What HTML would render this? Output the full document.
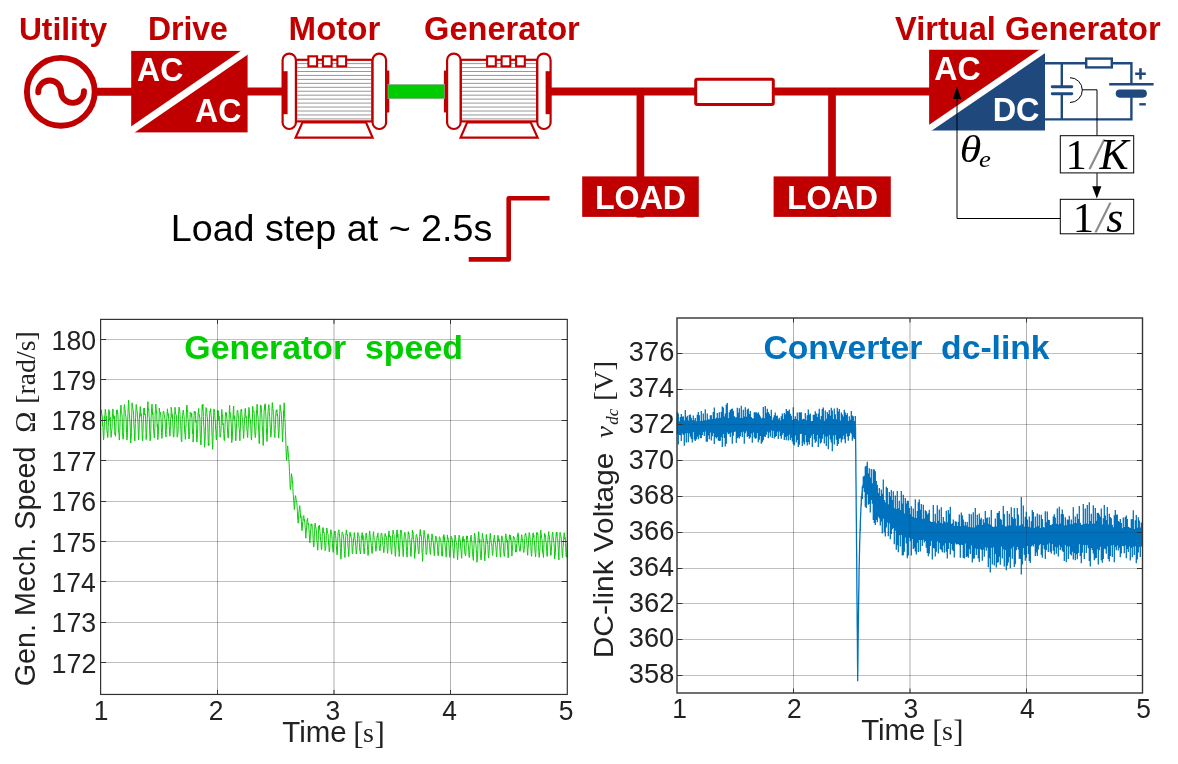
<!DOCTYPE html>
<html lang="en">
<head>
<meta charset="utf-8">
<title>Virtual generator load step</title>
<style>
html,body{margin:0;padding:0;background:#fff;}
body{width:1178px;height:764px;overflow:hidden;}
svg{display:block;}
text{font-family:"Liberation Sans",Arial,sans-serif;white-space:pre;}
.b{font-weight:bold;}
.ser{font-family:"Liberation Serif","Times New Roman",serif;}
.it{font-style:italic;}
</style>
</head>
<body>
<svg width="1178" height="764" viewBox="0 0 1178 764">
<rect width="1178" height="764" fill="#fff"/>

<g id="diagram">
<text class="b" transform="translate(18.89 40.20)" font-size="31.81" fill="#c00000">Utility</text>
<text class="b" transform="translate(147.89 40.00) scale(1 1.027)" font-size="31.99" fill="#c00000">Drive</text>
<text class="b" transform="translate(288.62 40.00) scale(1 0.994)" font-size="33.04" fill="#c00000">Motor</text>
<text class="b" transform="translate(424.06 40.00)" font-size="32.58" fill="#c00000">Generator</text>
<text class="b" transform="translate(895.10 40.00)" font-size="32.58" fill="#c00000">Virtual Generator</text>
<g stroke="#c00000" stroke-width="8" fill="none">
<path d="M97 91.8H132"/>
<path d="M247 91.6H283"/>
<path d="M551 91.5H930"/>
<path d="M640.4 91.5V217.6" stroke-width="7.7"/>
<path d="M832 91.5V217" stroke-width="7.7"/>
</g>
<circle cx="60.8" cy="91.8" r="33.9" fill="#fff" stroke="#c00000" stroke-width="5.9"/>
<path d="M38.2 92.2A11.45 11.45 0 0 1 61.1 91.7A11.45 11.45 0 0 0 84 91.2" fill="none" stroke="#c00000" stroke-width="5.9" stroke-linecap="round"/>
<rect x="131.2" y="50.9" width="116.4" height="81.5" fill="#c00000"/>
<path d="M125.4 134.6L253.5 46.4" stroke="#fff" stroke-width="7" fill="none"/>
<text class="b" transform="translate(137.08 80.60) scale(1 1.029)" font-size="31.98" fill="#fff">AC</text>
<text class="b" transform="translate(195.03 121.80) scale(1 1.033)" font-size="32.09" fill="#fff">AC</text>
<g id="motor">
<rect x="296.0" y="59.8" width="76.4" height="61.6" fill="#fff" stroke="#c00000" stroke-width="2.2"/>
<path d="M297.0 63.60H371.4M297.0 67.55H371.4M297.0 71.50H371.4M297.0 75.45H371.4M297.0 79.40H371.4M297.0 83.35H371.4M297.0 87.30H371.4M297.0 91.25H371.4M297.0 95.20H371.4M297.0 99.15H371.4M297.0 103.10H371.4M297.0 107.05H371.4M297.0 111.00H371.4M297.0 114.95H371.4M297.0 118.90H371.4" stroke="#8c8c8c" stroke-width="0.9" fill="none"/>
<rect x="308.4" y="56.3" width="8.7" height="10" fill="#fff" stroke="#c00000" stroke-width="2.1"/>
<rect x="322.9" y="56.3" width="8.7" height="10" fill="#fff" stroke="#c00000" stroke-width="2.1"/>
<rect x="337.4" y="56.3" width="8.7" height="10" fill="#fff" stroke="#c00000" stroke-width="2.1"/>
<path d="M302.5 122.4L366.0 122.4L372.6 137.6L295.6 137.6Z" fill="#fff" stroke="#c00000" stroke-width="2.2" stroke-linejoin="miter"/>
<rect x="282.6" y="53.6" width="13.3" height="75.4" rx="6.6" ry="6.6" fill="#fff" stroke="#c00000" stroke-width="2.2"/>
<rect x="372.6" y="53.6" width="13.5" height="75.4" rx="6.6" ry="6.6" fill="#fff" stroke="#c00000" stroke-width="2.2"/>
<rect x="282.6" y="71.2" width="5.0" height="43" fill="#c00000"/>
<path d="M386.5 70.5H388.5Q389.3 70.5 389.3 71.5V111.6Q389.3 112.6 388.5 112.6H386.5Z" fill="#c00000"/>
</g>
<g id="generator">
<rect x="460.8" y="59.8" width="76.4" height="61.6" fill="#fff" stroke="#c00000" stroke-width="2.2"/>
<path d="M461.8 63.60H536.2M461.8 67.55H536.2M461.8 71.50H536.2M461.8 75.45H536.2M461.8 79.40H536.2M461.8 83.35H536.2M461.8 87.30H536.2M461.8 91.25H536.2M461.8 95.20H536.2M461.8 99.15H536.2M461.8 103.10H536.2M461.8 107.05H536.2M461.8 111.00H536.2M461.8 114.95H536.2M461.8 118.90H536.2" stroke="#8c8c8c" stroke-width="0.9" fill="none"/>
<rect x="516.1" y="56.3" width="8.7" height="10" fill="#fff" stroke="#c00000" stroke-width="2.1"/>
<rect x="501.6" y="56.3" width="8.7" height="10" fill="#fff" stroke="#c00000" stroke-width="2.1"/>
<rect x="487.1" y="56.3" width="8.7" height="10" fill="#fff" stroke="#c00000" stroke-width="2.1"/>
<path d="M530.7 122.4L467.2 122.4L460.6 137.6L537.6 137.6Z" fill="#fff" stroke="#c00000" stroke-width="2.2" stroke-linejoin="miter"/>
<rect x="537.3" y="53.6" width="13.3" height="75.4" rx="6.6" ry="6.6" fill="#fff" stroke="#c00000" stroke-width="2.2"/>
<rect x="447.1" y="53.6" width="13.5" height="75.4" rx="6.6" ry="6.6" fill="#fff" stroke="#c00000" stroke-width="2.2"/>
<rect x="545.6" y="71.2" width="5.0" height="43" fill="#c00000"/>
<path d="M446.7 70.5H444.7Q443.9 70.5 443.9 71.5V111.6Q443.9 112.6 444.7 112.6H446.7Z" fill="#c00000"/>
</g>
<rect x="388" y="84.5" width="56.4" height="14.2" fill="#00cc00" stroke="#8fa88f" stroke-width="0.7"/>
<rect x="695.7" y="79.2" width="77.6" height="25.4" rx="1.5" fill="#fff" stroke="#c00000" stroke-width="3"/>
<rect x="582.2" y="176.4" width="116.6" height="40.5" fill="#c00000"/>
<rect x="773.6" y="176.4" width="117.2" height="40.5" fill="#c00000"/>
<text class="b" transform="translate(594.98 208.80) scale(1 1.021)" font-size="32.17" fill="#fff">LOAD</text>
<text class="b" transform="translate(786.98 208.80) scale(1 1.022)" font-size="32.13" fill="#fff">LOAD</text>
<text transform="translate(170.71 241.40)" font-size="37.70" fill="#000">Load step at ~ 2.5s</text>
<path d="M468.7 259.4H508.7V198.2H549.6" fill="none" stroke="#c00000" stroke-width="4.6" stroke-linejoin="round"/>
<path d="M929.1 49.7H1045L929.1 130.5Z" fill="#c00000"/>
<path d="M1045 49.7V130.5H929.1Z" fill="#1f497d"/>
<path d="M923.2 132.6L1050.8 45.5" stroke="#fff" stroke-width="6.2" fill="none"/>
<text class="b" transform="translate(934.23 79.70) scale(1 1.019)" font-size="32.09" fill="#fff">AC</text>
<text class="b" transform="translate(992.66 120.80)" font-size="32.49" fill="#fff">DC</text>
<g stroke="#1f497d" fill="none" stroke-width="2.4">
<path d="M1044.8 63.3H1131.4V84.2"/>
<path d="M1044.8 119.4H1131.4V94"/>
<path d="M1061.8 63.3V86.8M1061.8 93.7V119.4"/>
<path d="M1052.2 86.8H1071.8M1052.2 93.7H1071.8" stroke-width="2.9" stroke-linecap="round"/>
<path d="M1109.2 84.2H1153.6"/>
<path d="M1119.8 93.6H1142.8" stroke-width="8.2" stroke-linecap="round"/>
<rect x="1086.2" y="58.6" width="25.6" height="8.8" fill="#fff"/>
<path d="M1135.2 73.8H1145.8M1140.5 68.2V79.6" stroke-width="2.6"/>
<path d="M1139.3 104.3H1145.8" stroke-width="2.4"/>
</g>
<g stroke="#000" fill="none" stroke-width="1">
<path d="M1070 77.7A12.3 12.4 0 0 1 1070 102.5"/>
<path d="M1082.2 89.8H1097V135.7"/>
<path d="M1097 173.1V188"/>
<path d="M1060.3 218.5H957V97"/>
<rect x="1060.3" y="135.7" width="73.4" height="37.2" fill="#fff"/>
<rect x="1060.3" y="199.3" width="73.4" height="34.5" fill="#fff"/>
</g>
<path d="M1096.8 198.4L1092.2 186.2H1101.4Z" fill="#000"/>
<path d="M957 86.5L952.8 98.9H961.2Z" fill="#000"/>
<text transform="translate(1060.00 168.50)" fill="#000"><tspan class="ser" x="5.47" font-size="42.60">1</tspan><tspan class="ser" x="28.52" font-size="47.00" fill="#8c8c8c" rotate="7.6">/</tspan><tspan class="ser it" x="39.53" font-size="43.60" rotate="0">K</tspan></text>
<text transform="translate(1060.00 231.75)" fill="#000"><tspan class="ser" x="12.72" font-size="42.60">1</tspan><tspan class="ser" x="34.52" font-size="47.00" fill="#8c8c8c" rotate="7.6">/</tspan><tspan class="ser it" x="46.19" font-size="44.00" rotate="0">s</tspan></text>
<text transform="translate(950.00 161.70) scale(1 0.876)" fill="#000"><tspan class="ser it" x="9.80" font-size="43.81">θ</tspan><tspan class="ser it" x="28.90" font-size="26.79" dy="5.71">e</tspan></text>
</g>
<g id="plotL">
<path d="M100.6 339.5H567.3M100.6 379.5H567.3M100.6 420.5H567.3M100.6 460.5H567.3M100.6 501.5H567.3M100.6 541.5H567.3M100.6 581.5H567.3M100.6 622.5H567.3M100.6 662.5H567.3" stroke="#000" stroke-opacity="0.14" stroke-width="1" fill="none"/>
<path d="M217.5 319.4V694.45M334.0 319.4V694.45M450.5 319.4V694.45" stroke="#000" stroke-opacity="0.16" stroke-width="1" fill="none"/>
<path d="M100.6 416.4L100.9 414.3L101.2 410.1L101.5 409.9L101.8 415.0L102.1 415.5L102.4 417.9L102.6 425.9L102.9 425.3L103.2 432.8L103.5 439.9L103.8 438.2L104.1 430.6L104.4 423.6L104.7 415.7L105.0 414.3L105.3 409.3L105.6 412.3L105.9 414.2L106.1 420.6L106.4 416.3L106.7 424.8L107.0 432.3L107.3 431.8L107.6 437.6L107.9 436.8L108.2 426.5L108.5 422.7L108.8 409.6L109.1 411.6L109.4 413.7L109.6 411.6L109.9 420.1L110.2 417.5L110.5 427.8L110.8 430.4L111.1 437.4L111.4 433.8L111.7 430.7L112.0 428.7L112.3 417.5L112.6 413.4L112.9 408.9L113.2 412.6L113.4 416.9L113.7 419.2L114.0 416.5L114.3 415.8L114.6 426.2L114.9 434.4L115.2 433.0L115.5 436.3L115.8 430.6L116.1 421.3L116.4 414.1L116.7 410.1L116.9 412.4L117.2 409.8L117.5 413.6L117.8 412.9L118.1 420.0L118.4 429.2L118.7 432.2L119.0 433.9L119.3 440.1L119.6 436.4L119.9 427.8L120.2 417.6L120.5 409.4L120.7 409.7L121.0 405.1L121.3 411.9L121.6 413.5L121.9 413.7L122.2 419.0L122.5 430.7L122.8 436.9L123.1 439.3L123.4 438.3L123.7 432.8L124.0 416.0L124.2 406.9L124.5 404.6L124.8 408.6L125.1 409.7L125.4 413.4L125.7 415.9L126.0 417.1L126.3 424.1L126.6 434.5L126.9 440.1L127.2 438.6L127.5 432.3L127.7 421.0L128.0 412.3L128.3 405.6L128.6 400.0L128.9 405.8L129.2 411.6L129.5 414.9L129.8 420.0L130.1 423.9L130.4 432.2L130.7 443.1L131.0 439.7L131.3 436.3L131.5 421.0L131.8 413.2L132.1 402.8L132.4 406.3L132.7 407.9L133.0 409.4L133.3 410.5L133.6 415.1L133.9 424.9L134.2 429.3L134.5 436.9L134.8 440.9L135.0 437.9L135.3 423.4L135.6 417.8L135.9 411.0L136.2 404.5L136.5 406.7L136.8 409.9L137.1 410.5L137.4 414.1L137.7 418.9L138.0 424.3L138.3 433.3L138.6 439.9L138.8 438.1L139.1 431.3L139.4 419.6L139.7 413.9L140.0 411.2L140.3 406.6L140.6 412.2L140.9 416.3L141.2 413.4L141.5 419.7L141.8 422.8L142.1 432.6L142.3 439.7L142.6 440.9L142.9 433.9L143.2 424.0L143.5 415.7L143.8 408.4L144.1 410.0L144.4 408.1L144.7 415.0L145.0 413.7L145.3 414.9L145.6 419.3L145.8 425.1L146.1 439.5L146.4 437.0L146.7 432.6L147.0 424.5L147.3 418.7L147.6 408.0L147.9 401.7L148.2 410.5L148.5 408.6L148.8 409.7L149.1 416.8L149.4 418.5L149.6 429.3L149.9 436.2L150.2 440.8L150.5 437.1L150.8 430.3L151.1 417.6L151.4 413.1L151.7 406.7L152.0 404.2L152.3 407.5L152.6 414.6L152.9 412.7L153.1 419.3L153.4 423.4L153.7 431.2L154.0 434.8L154.3 438.0L154.6 437.1L154.9 426.4L155.2 412.0L155.5 408.6L155.8 404.1L156.1 408.0L156.4 413.1L156.7 411.3L156.9 418.9L157.2 426.9L157.5 424.1L157.8 439.6L158.1 436.0L158.4 431.9L158.7 425.8L159.0 421.0L159.3 408.1L159.6 411.5L159.9 412.4L160.2 412.5L160.4 412.1L160.7 415.8L161.0 418.5L161.3 427.2L161.6 432.6L161.9 438.4L162.2 435.2L162.5 427.0L162.8 420.8L163.1 412.1L163.4 411.2L163.7 411.4L163.9 411.9L164.2 414.6L164.5 414.9L164.8 418.9L165.1 420.0L165.4 430.3L165.7 434.7L166.0 437.0L166.3 430.2L166.6 421.4L166.9 417.4L167.2 411.4L167.5 408.8L167.7 412.2L168.0 415.2L168.3 413.6L168.6 418.2L168.9 421.7L169.2 425.5L169.5 430.7L169.8 436.2L170.1 433.9L170.4 425.2L170.7 418.3L171.0 416.7L171.2 407.2L171.5 411.0L171.8 411.4L172.1 417.9L172.4 414.5L172.7 422.7L173.0 427.3L173.3 436.4L173.6 437.2L173.9 436.1L174.2 429.8L174.5 419.7L174.8 413.1L175.0 407.3L175.3 410.7L175.6 414.0L175.9 414.1L176.2 414.9L176.5 417.1L176.8 423.8L177.1 436.8L177.4 437.1L177.7 435.1L178.0 433.0L178.3 425.3L178.5 414.3L178.8 410.7L179.1 407.0L179.4 410.4L179.7 409.7L180.0 414.2L180.3 420.3L180.6 422.6L180.9 429.1L181.2 439.2L181.5 441.3L181.8 441.9L182.0 425.7L182.3 419.2L182.6 415.6L182.9 412.3L183.2 410.0L183.5 410.3L183.8 414.9L184.1 416.5L184.4 424.9L184.7 432.4L185.0 434.4L185.3 439.4L185.6 438.8L185.8 428.3L186.1 423.4L186.4 413.9L186.7 406.6L187.0 405.0L187.3 411.6L187.6 410.4L187.9 418.3L188.2 420.1L188.5 427.4L188.8 438.0L189.1 439.0L189.3 437.7L189.6 434.5L189.9 424.9L190.2 412.4L190.5 413.2L190.8 412.8L191.1 412.8L191.4 416.7L191.7 413.2L192.0 418.9L192.3 427.0L192.6 433.5L192.9 431.8L193.1 442.1L193.4 438.6L193.7 427.5L194.0 417.0L194.3 411.1L194.6 411.4L194.9 413.2L195.2 411.7L195.5 415.7L195.8 422.3L196.1 420.5L196.4 428.4L196.6 438.0L196.9 442.1L197.2 439.1L197.5 433.5L197.8 424.8L198.1 412.3L198.4 412.3L198.7 408.4L199.0 415.1L199.3 414.7L199.6 417.5L199.9 417.3L200.1 430.7L200.4 439.6L200.7 443.7L201.0 445.0L201.3 437.3L201.6 424.3L201.9 413.2L202.2 405.1L202.5 409.6L202.8 404.0L203.1 408.5L203.4 416.4L203.7 425.1L203.9 426.3L204.2 434.3L204.5 447.2L204.8 444.1L205.1 440.1L205.4 431.2L205.7 416.4L206.0 407.6L206.3 408.4L206.6 408.3L206.9 413.4L207.2 416.7L207.4 418.1L207.7 422.6L208.0 433.1L208.3 445.2L208.6 443.0L208.9 445.6L209.2 432.7L209.5 417.4L209.8 412.2L210.1 410.7L210.4 411.9L210.7 408.6L211.0 414.3L211.2 416.0L211.5 419.6L211.8 428.9L212.1 437.5L212.4 444.6L212.7 449.4L213.0 439.1L213.3 425.3L213.6 415.8L213.9 408.9L214.2 409.5L214.5 411.0L214.7 412.4L215.0 418.9L215.3 421.0L215.6 429.7L215.9 430.9L216.2 439.2L216.5 439.9L216.8 433.2L217.1 425.5L217.4 418.8L217.7 410.4L218.0 413.7L218.2 410.7L218.5 413.9L218.8 420.4L219.1 416.2L219.4 425.4L219.7 428.4L220.0 437.2L220.3 437.1L220.6 434.3L220.9 432.3L221.2 425.1L221.5 414.8L221.8 409.4L222.0 412.7L222.3 415.4L222.6 415.0L222.9 424.9L223.2 423.5L223.5 430.7L223.8 433.1L224.1 439.9L224.4 440.6L224.7 433.5L225.0 427.6L225.3 416.4L225.5 413.4L225.8 412.1L226.1 414.7L226.4 413.1L226.7 417.7L227.0 419.2L227.3 424.2L227.6 433.6L227.9 436.0L228.2 438.1L228.5 434.3L228.8 427.9L229.1 419.2L229.3 410.4L229.6 405.3L229.9 413.6L230.2 412.7L230.5 417.0L230.8 417.0L231.1 422.3L231.4 427.2L231.7 442.6L232.0 440.7L232.3 439.4L232.6 430.1L232.8 422.3L233.1 414.7L233.4 408.3L233.7 406.0L234.0 419.3L234.3 415.8L234.6 416.8L234.9 421.3L235.2 428.1L235.5 437.2L235.8 440.8L236.1 436.6L236.3 429.8L236.6 423.1L236.9 417.0L237.2 410.2L237.5 410.5L237.8 410.6L238.1 413.9L238.4 418.0L238.7 419.2L239.0 427.5L239.3 429.3L239.6 433.9L239.9 440.8L240.1 432.9L240.4 428.2L240.7 414.9L241.0 409.6L241.3 410.6L241.6 409.1L241.9 414.7L242.2 417.3L242.5 419.7L242.8 422.9L243.1 429.2L243.4 433.8L243.6 438.4L243.9 433.0L244.2 425.7L244.5 420.9L244.8 416.5L245.1 408.7L245.4 408.3L245.7 413.3L246.0 418.0L246.3 416.6L246.6 417.1L246.9 430.3L247.2 430.9L247.4 436.8L247.7 437.6L248.0 429.1L248.3 425.1L248.6 413.9L248.9 407.4L249.2 409.6L249.5 413.7L249.8 418.0L250.1 418.9L250.4 423.3L250.7 420.2L250.9 430.9L251.2 438.1L251.5 440.1L251.8 435.5L252.1 425.6L252.4 419.1L252.7 406.2L253.0 410.1L253.3 411.5L253.6 411.3L253.9 410.9L254.2 414.1L254.4 423.0L254.7 428.1L255.0 435.2L255.3 437.6L255.6 435.7L255.9 430.5L256.2 421.1L256.5 409.8L256.8 409.5L257.1 404.2L257.4 409.8L257.7 414.8L258.0 416.0L258.2 420.9L258.5 427.0L258.8 432.4L259.1 443.3L259.4 443.7L259.7 431.3L260.0 421.7L260.3 411.0L260.6 404.9L260.9 405.9L261.2 406.0L261.5 412.8L261.7 413.4L262.0 419.5L262.3 426.8L262.6 431.1L262.9 438.1L263.2 445.5L263.5 438.0L263.8 424.2L264.1 411.3L264.4 408.1L264.7 405.1L265.0 409.8L265.2 403.7L265.5 411.3L265.8 413.8L266.1 420.1L266.4 427.4L266.7 435.8L267.0 441.5L267.3 435.7L267.6 428.1L267.9 414.1L268.2 410.3L268.5 406.4L268.8 404.6L269.0 405.9L269.3 411.4L269.6 416.4L269.9 419.7L270.2 427.6L270.5 429.8L270.8 437.1L271.1 435.3L271.4 430.3L271.7 421.8L272.0 408.6L272.3 402.6L272.5 404.8L272.8 408.6L273.1 408.8L273.4 414.8L273.7 415.9L274.0 425.4L274.3 433.5L274.6 435.9L274.9 437.6L275.2 428.9L275.5 424.5L275.8 414.1L276.1 410.5L276.3 410.6L276.6 412.1L276.9 409.6L277.2 415.9L277.5 413.7L277.8 418.2L278.1 429.3L278.4 431.7L278.7 438.1L279.0 433.0L279.3 427.7L279.6 414.8L279.8 411.5L280.1 404.8L280.4 408.2L280.7 410.0L281.0 410.8L281.3 414.7L281.6 419.7L281.9 424.7L282.2 432.1L282.5 442.0L282.8 436.5L283.1 429.1L283.3 422.1L283.6 410.3L283.9 409.5L284.2 402.8L284.5 413.3L284.8 418.7L285.1 422.1L285.4 430.5L285.7 437.1L286.0 448.5L286.3 455.2L286.6 460.3L286.9 457.6L287.1 451.6L287.4 448.6L287.7 445.8L288.0 450.4L288.3 454.0L288.6 457.6L288.9 460.1L289.2 465.0L289.5 471.6L289.8 477.8L290.1 485.9L290.4 489.6L290.6 487.1L290.9 486.0L291.2 479.5L291.5 473.7L291.8 475.8L292.1 477.2L292.4 482.7L292.7 481.8L293.0 492.0L293.3 494.6L293.6 500.2L293.9 502.0L294.2 508.2L294.4 509.6L294.7 507.8L295.0 500.0L295.3 496.0L295.6 495.6L295.9 498.0L296.2 499.9L296.5 500.4L296.8 502.8L297.1 506.4L297.4 511.2L297.7 519.0L297.9 520.2L298.2 523.2L298.5 519.2L298.8 513.8L299.1 511.0L299.4 508.9L299.7 505.7L300.0 508.4L300.3 512.2L300.6 518.0L300.9 515.6L301.2 518.0L301.4 521.7L301.7 528.7L302.0 530.7L302.3 529.1L302.6 523.0L302.9 521.4L303.2 516.2L303.5 516.5L303.8 515.5L304.1 520.3L304.4 519.0L304.7 522.3L305.0 524.7L305.2 527.5L305.5 530.8L305.8 538.2L306.1 533.6L306.4 530.8L306.7 527.0L307.0 519.8L307.3 519.6L307.6 518.1L307.9 522.7L308.2 524.9L308.5 523.3L308.7 524.2L309.0 530.5L309.3 534.7L309.6 540.6L309.9 542.8L310.2 538.1L310.5 529.8L310.8 529.7L311.1 524.1L311.4 525.8L311.7 523.8L312.0 524.4L312.3 529.6L312.5 530.5L312.8 531.3L313.1 538.4L313.4 544.9L313.7 546.9L314.0 546.0L314.3 536.1L314.6 532.1L314.9 524.5L315.2 523.1L315.5 526.5L315.8 528.1L316.0 527.9L316.3 531.0L316.6 534.0L316.9 541.9L317.2 542.8L317.5 548.8L317.8 550.2L318.1 542.7L318.4 534.3L318.7 525.9L319.0 527.1L319.3 528.8L319.5 525.0L319.8 530.1L320.1 532.6L320.4 536.7L320.7 540.9L321.0 542.1L321.3 548.9L321.6 549.8L321.9 546.0L322.2 536.3L322.5 533.4L322.8 527.7L323.1 527.6L323.3 529.0L323.6 532.7L323.9 532.0L324.2 532.8L324.5 539.2L324.8 545.5L325.1 550.6L325.4 549.9L325.7 548.3L326.0 542.4L326.3 535.6L326.6 533.3L326.8 528.0L327.1 529.8L327.4 532.1L327.7 533.3L328.0 534.2L328.3 538.7L328.6 544.8L328.9 546.4L329.2 551.9L329.5 551.4L329.8 547.9L330.1 538.7L330.4 534.7L330.6 531.1L330.9 529.7L331.2 532.0L331.5 532.3L331.8 535.2L332.1 539.1L332.4 543.4L332.7 548.9L333.0 551.0L333.3 552.4L333.6 549.2L333.9 540.4L334.1 535.0L334.4 531.8L334.7 532.7L335.0 531.0L335.3 533.2L335.6 535.4L335.9 538.7L336.2 543.4L336.5 548.0L336.8 552.3L337.1 554.8L337.4 552.0L337.6 545.9L337.9 536.9L338.2 531.6L338.5 531.3L338.8 529.8L339.1 531.8L339.4 533.7L339.7 537.6L340.0 541.4L340.3 548.5L340.6 551.2L340.9 559.2L341.2 555.0L341.4 548.9L341.7 538.9L342.0 533.6L342.3 531.9L342.6 532.9L342.9 533.8L343.2 534.5L343.5 536.8L343.8 540.4L344.1 546.3L344.4 551.5L344.7 553.9L344.9 557.5L345.2 551.0L345.5 540.7L345.8 535.1L346.1 532.4L346.4 529.9L346.7 533.8L347.0 534.7L347.3 534.2L347.6 536.3L347.9 546.3L348.2 548.0L348.5 550.9L348.7 556.5L349.0 552.2L349.3 543.5L349.6 539.5L349.9 532.9L350.2 532.1L350.5 536.1L350.8 534.4L351.1 537.1L351.4 537.4L351.7 538.8L352.0 545.9L352.2 552.5L352.5 553.8L352.8 552.8L353.1 546.3L353.4 543.5L353.7 537.6L354.0 536.6L354.3 532.6L354.6 535.2L354.9 538.0L355.2 539.8L355.5 542.1L355.7 546.7L356.0 550.4L356.3 554.0L356.6 551.0L356.9 548.9L357.2 544.7L357.5 538.7L357.8 532.5L358.1 533.2L358.4 534.7L358.7 535.6L359.0 535.8L359.3 542.4L359.5 545.0L359.8 551.0L360.1 551.3L360.4 554.0L360.7 552.0L361.0 546.7L361.3 538.3L361.6 535.5L361.9 534.7L362.2 532.6L362.5 537.9L362.8 539.8L363.0 535.4L363.3 543.1L363.6 547.7L363.9 552.4L364.2 553.9L364.5 551.1L364.8 546.4L365.1 540.4L365.4 536.5L365.7 536.1L366.0 533.5L366.3 533.0L366.6 535.3L366.8 539.0L367.1 540.0L367.4 546.0L367.7 550.2L368.0 555.5L368.3 554.0L368.6 549.3L368.9 543.5L369.2 536.1L369.5 530.9L369.8 531.3L370.1 535.2L370.3 537.6L370.6 539.1L370.9 541.8L371.2 543.8L371.5 547.9L371.8 552.3L372.1 553.5L372.4 550.8L372.7 545.5L373.0 540.2L373.3 532.0L373.6 531.7L373.8 535.8L374.1 537.5L374.4 538.5L374.7 539.4L375.0 540.4L375.3 545.0L375.6 549.2L375.9 551.3L376.2 549.9L376.5 545.7L376.8 540.2L377.1 536.3L377.4 536.8L377.6 534.5L377.9 532.9L378.2 538.2L378.5 539.9L378.8 539.6L379.1 544.7L379.4 549.8L379.7 549.4L380.0 550.8L380.3 547.0L380.6 543.6L380.9 536.7L381.1 534.0L381.4 533.0L381.7 533.6L382.0 535.1L382.3 538.0L382.6 539.1L382.9 545.3L383.2 546.5L383.5 549.9L383.8 552.7L384.1 550.8L384.4 544.6L384.7 540.8L384.9 534.5L385.2 533.4L385.5 536.2L385.8 536.0L386.1 535.8L386.4 537.6L386.7 540.5L387.0 546.5L387.3 551.1L387.6 553.4L387.9 550.4L388.2 542.8L388.4 538.1L388.7 532.8L389.0 530.9L389.3 536.0L389.6 535.2L389.9 537.2L390.2 536.1L390.5 538.1L390.8 546.2L391.1 550.1L391.4 552.7L391.7 554.2L391.9 550.2L392.2 543.5L392.5 534.6L392.8 533.9L393.1 530.1L393.4 533.2L393.7 534.0L394.0 534.5L394.3 540.6L394.6 545.1L394.9 548.5L395.2 555.6L395.5 556.4L395.7 552.0L396.0 544.7L396.3 539.5L396.6 533.1L396.9 530.0L397.2 529.9L397.5 537.3L397.8 533.9L398.1 536.9L398.4 544.0L398.7 550.1L399.0 552.5L399.2 556.5L399.5 553.6L399.8 546.2L400.1 540.3L400.4 533.3L400.7 530.1L401.0 530.0L401.3 530.5L401.6 532.7L401.9 537.1L402.2 541.2L402.5 542.0L402.8 550.4L403.0 554.5L403.3 556.6L403.6 548.5L403.9 543.5L404.2 536.2L404.5 533.9L404.8 532.3L405.1 533.0L405.4 537.5L405.7 538.5L406.0 539.8L406.3 546.0L406.5 551.4L406.8 555.2L407.1 557.2L407.4 550.5L407.7 546.3L408.0 536.5L408.3 531.6L408.6 533.8L408.9 532.9L409.2 535.7L409.5 538.6L409.8 539.5L410.0 542.9L410.3 546.4L410.6 550.8L410.9 556.5L411.2 553.5L411.5 546.2L411.8 538.1L412.1 538.5L412.4 530.2L412.7 533.1L413.0 532.1L413.3 537.1L413.6 539.6L413.8 541.3L414.1 544.1L414.4 551.1L414.7 558.4L415.0 553.1L415.3 552.1L415.6 544.1L415.9 538.0L416.2 535.6L416.5 534.4L416.8 535.6L417.1 536.8L417.3 537.8L417.6 540.9L417.9 547.0L418.2 550.3L418.5 552.9L418.8 554.0L419.1 551.8L419.4 544.2L419.7 536.6L420.0 531.2L420.3 529.4L420.6 533.9L420.8 535.7L421.1 534.8L421.4 537.0L421.7 540.8L422.0 552.4L422.3 554.1L422.6 561.4L422.9 552.8L423.2 547.8L423.5 540.4L423.8 535.0L424.1 530.4L424.4 533.6L424.6 533.4L424.9 536.0L425.2 538.4L425.5 541.4L425.8 546.8L426.1 554.0L426.4 554.5L426.7 553.9L427.0 550.4L427.3 541.9L427.6 535.5L427.9 535.8L428.1 533.8L428.4 535.9L428.7 538.6L429.0 538.4L429.3 542.8L429.6 546.1L429.9 549.9L430.2 553.6L430.5 554.4L430.8 548.0L431.1 546.4L431.4 539.0L431.7 537.5L431.9 533.9L432.2 534.0L432.5 535.6L432.8 540.2L433.1 541.5L433.4 542.2L433.7 548.6L434.0 550.9L434.3 555.7L434.6 550.1L434.9 545.9L435.2 541.1L435.4 538.9L435.7 536.2L436.0 536.2L436.3 537.5L436.6 539.6L436.9 541.3L437.2 543.1L437.5 544.8L437.8 554.3L438.1 555.7L438.4 555.5L438.7 550.4L438.9 546.8L439.2 538.4L439.5 536.7L439.8 537.2L440.1 539.1L440.4 539.2L440.7 540.5L441.0 542.3L441.3 547.3L441.6 549.1L441.9 555.8L442.2 552.0L442.5 556.3L442.7 547.1L443.0 542.7L443.3 536.1L443.6 538.9L443.9 534.5L444.2 541.5L444.5 537.1L444.8 541.5L445.1 545.2L445.4 548.8L445.7 550.1L446.0 554.0L446.2 557.2L446.5 546.7L446.8 542.2L447.1 540.5L447.4 534.9L447.7 538.6L448.0 537.9L448.3 539.4L448.6 542.6L448.9 543.4L449.2 550.4L449.5 553.1L449.8 557.3L450.0 556.1L450.3 548.2L450.6 544.6L450.9 540.8L451.2 536.3L451.5 537.2L451.8 537.5L452.1 539.0L452.4 540.9L452.7 543.4L453.0 548.5L453.3 551.9L453.5 554.8L453.8 558.2L454.1 553.7L454.4 547.1L454.7 538.8L455.0 535.0L455.3 537.0L455.6 537.0L455.9 541.3L456.2 542.2L456.5 542.8L456.8 545.3L457.0 549.6L457.3 556.2L457.6 559.7L457.9 554.6L458.2 549.9L458.5 542.3L458.8 537.8L459.1 535.1L459.4 535.9L459.7 537.3L460.0 541.1L460.3 540.6L460.6 546.0L460.8 549.5L461.1 551.4L461.4 556.7L461.7 558.3L462.0 549.3L462.3 543.6L462.6 537.8L462.9 536.5L463.2 536.2L463.5 538.7L463.8 541.1L464.1 539.2L464.3 544.8L464.6 549.0L464.9 553.8L465.2 553.8L465.5 556.0L465.8 554.4L466.1 547.6L466.4 540.4L466.7 535.8L467.0 538.9L467.3 536.1L467.6 539.7L467.9 542.1L468.1 543.8L468.4 545.6L468.7 549.0L469.0 556.3L469.3 557.6L469.6 557.4L469.9 549.3L470.2 541.6L470.5 540.0L470.8 536.5L471.1 535.1L471.4 541.0L471.6 540.6L471.9 541.1L472.2 548.2L472.5 551.2L472.8 556.0L473.1 558.0L473.4 560.4L473.7 551.1L474.0 544.6L474.3 536.5L474.6 533.2L474.9 534.6L475.1 536.1L475.4 541.7L475.7 543.2L476.0 545.7L476.3 549.5L476.6 553.4L476.9 562.3L477.2 560.5L477.5 557.6L477.8 550.2L478.1 537.6L478.4 535.2L478.7 531.7L478.9 534.0L479.2 539.5L479.5 543.1L479.8 539.4L480.1 547.7L480.4 554.8L480.7 557.1L481.0 559.9L481.3 558.3L481.6 550.8L481.9 542.0L482.2 536.4L482.4 533.3L482.7 536.0L483.0 538.1L483.3 538.5L483.6 541.2L483.9 543.5L484.2 550.9L484.5 556.1L484.8 560.8L485.1 555.2L485.4 554.3L485.7 544.3L486.0 539.8L486.2 534.9L486.5 534.4L486.8 540.0L487.1 539.6L487.4 544.0L487.7 541.6L488.0 548.9L488.3 555.8L488.6 558.1L488.9 555.0L489.2 550.8L489.5 544.6L489.7 541.6L490.0 536.9L490.3 533.3L490.6 538.4L490.9 539.6L491.2 542.2L491.5 544.7L491.8 544.3L492.1 549.9L492.4 554.3L492.7 555.5L493.0 552.3L493.2 546.0L493.5 542.2L493.8 538.2L494.1 537.8L494.4 535.1L494.7 539.3L495.0 542.5L495.3 542.3L495.6 544.7L495.9 547.6L496.2 551.7L496.5 557.0L496.8 556.0L497.0 550.6L497.3 545.8L497.6 538.7L497.9 535.3L498.2 536.1L498.5 540.2L498.8 541.1L499.1 538.8L499.4 544.9L499.7 546.0L500.0 550.9L500.3 555.9L500.5 557.2L500.8 551.5L501.1 547.0L501.4 539.9L501.7 535.8L502.0 536.5L502.3 536.9L502.6 538.7L502.9 541.8L503.2 542.3L503.5 546.6L503.8 553.2L504.1 555.0L504.3 556.4L504.6 554.3L504.9 550.8L505.2 539.8L505.5 535.3L505.8 533.8L506.1 535.2L506.4 539.4L506.7 538.8L507.0 542.4L507.3 540.4L507.6 549.2L507.8 551.8L508.1 557.8L508.4 555.9L508.7 550.0L509.0 541.6L509.3 536.7L509.6 534.7L509.9 538.3L510.2 535.0L510.5 540.0L510.8 537.5L511.1 539.5L511.3 545.0L511.6 549.2L511.9 556.0L512.2 549.7L512.5 549.9L512.8 542.9L513.1 540.4L513.4 536.0L513.7 537.3L514.0 537.0L514.3 538.1L514.6 539.1L514.9 539.2L515.1 543.8L515.4 548.3L515.7 552.2L516.0 550.1L516.3 552.0L516.6 544.1L516.9 543.7L517.2 538.1L517.5 534.8L517.8 536.5L518.1 532.8L518.4 534.8L518.6 543.1L518.9 545.0L519.2 547.3L519.5 548.2L519.8 551.2L520.1 551.4L520.4 549.9L520.7 543.4L521.0 541.7L521.3 537.7L521.6 534.7L521.9 535.4L522.2 540.3L522.4 539.5L522.7 539.4L523.0 545.4L523.3 550.6L523.6 552.3L523.9 552.5L524.2 549.6L524.5 544.6L524.8 538.7L525.1 534.5L525.4 535.0L525.7 533.2L525.9 535.5L526.2 536.8L526.5 537.4L526.8 541.8L527.1 547.0L527.4 553.0L527.7 555.3L528.0 548.4L528.3 547.1L528.6 540.2L528.9 535.8L529.2 532.5L529.4 533.1L529.7 533.9L530.0 537.7L530.3 542.3L530.6 542.5L530.9 546.5L531.2 553.3L531.5 556.3L531.8 553.6L532.1 546.4L532.4 541.2L532.7 537.3L533.0 533.1L533.2 532.8L533.5 537.3L533.8 535.1L534.1 539.6L534.4 540.7L534.7 546.1L535.0 552.7L535.3 553.5L535.6 556.9L535.9 552.3L536.2 543.1L536.5 535.2L536.7 532.6L537.0 533.7L537.3 532.6L537.6 534.8L537.9 534.3L538.2 540.7L538.5 544.4L538.8 551.2L539.1 557.4L539.4 556.2L539.7 551.6L540.0 547.8L540.3 539.9L540.5 535.7L540.8 530.2L541.1 534.5L541.4 534.5L541.7 538.7L542.0 539.4L542.3 544.2L542.6 552.1L542.9 553.2L543.2 555.1L543.5 557.5L543.8 548.7L544.0 541.9L544.3 537.2L544.6 533.4L544.9 536.6L545.2 534.8L545.5 535.2L545.8 541.0L546.1 542.1L546.4 544.2L546.7 551.5L547.0 556.2L547.3 556.5L547.5 550.3L547.8 543.9L548.1 536.2L548.4 536.1L548.7 531.6L549.0 535.5L549.3 535.6L549.6 539.7L549.9 543.1L550.2 546.0L550.5 551.9L550.8 555.5L551.1 555.0L551.3 551.1L551.6 545.9L551.9 540.1L552.2 535.2L552.5 532.1L552.8 532.3L553.1 536.6L553.4 538.1L553.7 541.4L554.0 543.5L554.3 547.5L554.6 559.0L554.8 556.5L555.1 555.9L555.4 552.8L555.7 541.0L556.0 535.8L556.3 532.5L556.6 535.8L556.9 532.0L557.2 537.2L557.5 540.0L557.8 540.2L558.1 546.5L558.4 551.8L558.6 555.0L558.9 559.9L559.2 548.9L559.5 544.8L559.8 537.0L560.1 532.3L560.4 534.7L560.7 534.7L561.0 535.9L561.3 539.2L561.6 541.0L561.9 548.7L562.1 553.4L562.4 557.7L562.7 556.3L563.0 547.4L563.3 546.4L563.6 540.2L563.9 535.6L564.2 532.7L564.5 534.3L564.8 539.2L565.1 537.5L565.4 541.3L565.6 543.4L565.9 552.7L566.2 556.5L566.5 555.2L566.8 557.2L567.1 548.3L567.4 542.0" stroke="#0ccc0c" stroke-width="1.0" fill="none" stroke-linejoin="round"/>
<path d="M100.6 339.5H567.3M100.6 379.5H567.3M100.6 420.5H567.3M100.6 460.5H567.3M100.6 501.5H567.3M100.6 541.5H567.3M100.6 581.5H567.3M100.6 622.5H567.3M100.6 662.5H567.3" stroke="#000" stroke-opacity="0.12" stroke-width="1" fill="none"/>
<path d="M217.5 319.4V694.45M334.0 319.4V694.45M450.5 319.4V694.45" stroke="#000" stroke-opacity="0.17" stroke-width="1" fill="none"/>
<rect x="100.6" y="319.4" width="466.69999999999993" height="375.05000000000007" fill="none" stroke="#333" stroke-width="1.2"/>
<path d="M100.6 339.5h5.5M567.3 339.5h-5.5M100.6 379.5h5.5M567.3 379.5h-5.5M100.6 420.5h5.5M567.3 420.5h-5.5M100.6 460.5h5.5M567.3 460.5h-5.5M100.6 501.5h5.5M567.3 501.5h-5.5M100.6 541.5h5.5M567.3 541.5h-5.5M100.6 581.5h5.5M567.3 581.5h-5.5M100.6 622.5h5.5M567.3 622.5h-5.5M100.6 662.5h5.5M567.3 662.5h-5.5M217.5 694.45v-4.5M217.5 319.4v4.5M334.0 694.45v-4.5M334.0 319.4v4.5M450.5 694.45v-4.5M450.5 319.4v4.5" stroke="#333" stroke-width="1" fill="none"/>
<text transform="translate(51.58 349.65) scale(1 1.038)" font-size="26.64" fill="#222222">180</text>
<text transform="translate(51.56 390.05) scale(1 1.032)" font-size="26.80" fill="#222222">179</text>
<text transform="translate(51.57 430.45) scale(1 1.035)" font-size="26.73" fill="#222222">178</text>
<text transform="translate(51.56 470.85) scale(1 1.045)" font-size="26.85" fill="#222222">177</text>
<text transform="translate(51.57 511.25) scale(1 1.035)" font-size="26.73" fill="#222222">176</text>
<text transform="translate(51.57 551.65) scale(1 1.051)" font-size="26.69" fill="#222222">175</text>
<text transform="translate(51.59 592.05) scale(1 1.059)" font-size="26.49" fill="#222222">174</text>
<text transform="translate(51.57 632.45) scale(1 1.035)" font-size="26.73" fill="#222222">173</text>
<text transform="translate(51.56 672.85) scale(1 1.030)" font-size="26.85" fill="#222222">172</text>
<text transform="translate(93.66 719.70) scale(1 1.068)" font-size="26.40" fill="#222222">1</text>
<text transform="translate(208.76 719.70) scale(1 1.053)" font-size="26.40" fill="#222222">2</text>
<text transform="translate(325.46 719.70) scale(1 1.053)" font-size="26.40" fill="#222222">3</text>
<text transform="translate(442.16 719.70) scale(1 1.068)" font-size="26.40" fill="#222222">4</text>
<text transform="translate(558.86 719.70) scale(1 1.068)" font-size="26.40" fill="#222222">5</text>
</g>
<text class="b" transform="translate(184.31 358.70)" font-size="33.88" fill="#00cc00">Generator  speed</text>
<text transform="translate(280.00 741.70)" fill="#222222"><tspan x="2.25" font-size="29.45">Time </tspan><tspan class="ser" x="73.30" font-size="31.00" dy="1.90">[</tspan><tspan class="ser" x="83.02" font-size="28.00" dy="-1.90">s</tspan><tspan class="ser" x="94.43" font-size="31.00" dy="1.90">]</tspan></text>
<text transform="translate(34.90 690.00) rotate(-90)" fill="#222222"><tspan x="3.76" font-size="28.76">Gen. Mech. Speed </tspan><tspan class="ser" x="257.28" font-size="28.60">Ω </tspan><tspan class="ser" x="286.25" font-size="27.76">[rad/s]</tspan></text>
<g id="plotR">
<path d="M677.0 353.5H1142.5M677.0 389.5H1142.5M677.0 424.5H1142.5M677.0 460.5H1142.5M677.0 496.5H1142.5M677.0 532.5H1142.5M677.0 568.5H1142.5M677.0 603.5H1142.5M677.0 639.5H1142.5M677.0 675.5H1142.5" stroke="#000" stroke-opacity="0.14" stroke-width="1" fill="none"/>
<path d="M793.5 318.0V693.0M910.0 318.0V693.0M1026.5 318.0V693.0" stroke="#000" stroke-opacity="0.16" stroke-width="1" fill="none"/>
<path d="M677.3 412.0V434.2M678.3 413.6V444.6M679.3 421.2V435.1M680.3 417.1V435.2M681.3 414.0V441.0M682.3 416.8V433.6M683.3 416.3V435.0M684.3 420.6V445.7M685.3 409.9V433.4M686.3 417.3V442.6M687.3 415.7V433.1M688.3 420.4V442.2M689.3 415.1V433.6M690.3 414.6V436.8M691.3 417.7V438.9M692.3 420.3V442.4M693.3 415.4V432.0M694.3 420.2V439.6M695.3 418.0V441.0M696.3 421.3V439.4M697.3 414.7V436.7M698.3 411.9V439.3M699.3 415.3V435.1M700.3 421.0V437.9M701.3 410.9V438.3M702.3 420.7V434.9M703.3 413.5V432.1M704.3 420.2V436.1M705.3 409.3V431.5M706.3 420.3V441.8M707.3 413.4V441.8M708.3 419.2V435.5M709.3 419.5V439.3M710.3 415.3V432.4M711.3 415.2V440.5M712.3 419.0V436.3M713.3 412.1V433.2M714.3 407.6V443.9M715.3 418.8V437.0M716.3 417.8V438.4M717.3 412.9V437.0M718.3 418.2V440.6M719.3 412.2V441.0M720.3 417.7V440.8M721.3 411.9V437.3M722.3 406.5V447.0M723.3 407.4V433.9M724.3 416.5V438.0M725.3 413.4V446.4M726.3 404.6V443.7M727.3 403.1V432.5M728.3 418.0V434.3M729.3 412.3V433.4M730.3 410.1V437.1M731.3 409.0V432.5M732.3 408.4V443.7M733.3 410.7V435.8M734.3 416.3V431.9M735.3 417.5V431.6M736.3 417.3V443.1M737.3 407.7V438.3M738.3 412.8V437.2M739.3 408.3V438.5M740.3 418.1V436.3M741.3 405.7V432.3M742.3 418.0V436.9M743.3 409.8V431.8M744.3 416.4V443.7M745.3 407.3V433.2M746.3 416.7V431.2M747.3 409.4V436.9M748.3 408.4V436.0M749.3 414.1V438.7M750.3 411.0V437.4M751.3 417.1V433.6M752.3 418.2V442.8M753.3 418.4V432.5M754.3 412.3V437.5M755.3 412.5V438.7M756.3 412.2V438.2M757.3 413.4V433.1M758.3 412.2V442.3M759.3 414.5V439.7M760.3 416.6V435.9M761.3 418.5V443.7M762.3 417.8V442.2M763.3 407.0V440.2M764.3 418.3V436.4M765.3 405.9V436.9M766.3 412.7V434.7M767.3 408.7V431.8M768.3 412.0V438.2M769.3 413.7V432.6M770.3 416.0V436.8M771.3 409.8V430.6M772.3 419.9V438.0M773.3 417.5V431.1M774.3 415.2V438.4M775.3 412.5V437.1M776.3 416.0V436.1M777.3 415.4V431.8M778.3 419.2V438.9M779.3 417.7V431.6M780.3 420.6V436.2M781.3 416.2V438.8M782.3 413.4V434.8M783.3 419.1V432.9M784.3 412.9V440.0M785.3 414.3V436.9M786.3 409.1V440.2M787.3 411.1V435.9M788.3 411.3V440.4M789.3 409.5V434.4M790.3 413.8V440.1M791.3 415.7V437.7M792.3 420.1V441.4M793.3 407.3V444.2M794.3 418.9V445.6M795.3 416.2V435.4M796.3 419.1V442.4M797.3 412.5V440.1M798.3 420.5V446.9M799.3 412.3V444.7M800.3 412.6V434.1M801.3 412.3V433.7M802.3 419.5V445.9M803.3 418.8V442.3M804.3 419.2V444.6M805.3 413.0V435.3M806.3 420.2V442.2M807.3 415.2V445.5M808.3 409.6V442.1M809.3 414.8V444.6M810.3 413.6V437.9M811.3 420.9V435.4M812.3 421.0V447.1M813.3 414.7V434.0M814.3 414.7V439.6M815.3 411.2V442.7M816.3 413.4V441.4M817.3 417.0V435.0M818.3 413.5V447.1M819.3 408.8V438.6M820.3 419.5V443.5M821.3 415.9V442.5M822.3 408.9V438.8M823.3 407.6V434.5M824.3 420.7V443.4M825.3 410.6V436.5M826.3 418.8V446.0M827.3 412.0V436.6M828.3 414.0V449.2M829.3 410.0V435.0M830.3 415.7V439.4M831.3 407.7V442.5M832.3 410.5V451.3M833.3 419.0V435.4M834.3 408.5V444.5M835.3 414.3V434.9M836.3 419.3V439.7M837.3 407.7V446.0M838.3 411.5V444.0M839.3 409.0V438.7M840.3 420.5V438.2M841.3 412.5V442.5M842.3 414.6V439.4M843.3 416.6V435.6M844.3 409.8V439.3M845.3 412.5V443.2M846.3 415.1V433.6M847.3 413.2V436.6M848.3 421.1V440.8M849.3 416.3V436.0M850.3 419.8V432.7M851.3 411.1V433.8M852.3 415.4V440.7M853.3 416.3V437.5M854.3 421.0V439.1M855.3 416.1V432.0M856.3 516.3V517.4M857.3 631.0V632.4M858.3 625.7V627.1M859.3 561.4V562.5M860.3 520.9V531.1M861.3 496.2V505.4M862.3 486.3V499.0M863.3 476.5V488.0M864.3 475.8V492.0M865.3 466.5V506.7M866.3 465.7V508.0M867.3 461.8V494.4M868.3 473.4V504.8M869.3 468.3V504.0M870.3 477.5V512.5M871.3 468.9V500.0M872.3 483.2V503.8M873.3 469.3V519.9M874.3 469.4V522.9M875.3 471.3V524.9M876.3 481.0V520.1M877.3 484.8V522.2M878.3 493.1V516.7M879.3 487.9V518.4M880.3 496.0V525.5M881.3 489.6V521.4M882.3 493.7V533.4M883.3 479.4V518.8M884.3 500.0V532.3M885.3 502.5V536.6M886.3 486.7V527.5M887.3 488.1V522.4M888.3 504.3V536.2M889.3 491.9V523.5M890.3 496.2V539.3M891.3 490.1V534.1M892.3 499.9V529.2M893.3 491.3V528.0M894.3 508.2V544.2M895.3 495.6V530.8M896.3 509.1V549.8M897.3 491.1V545.3M898.3 508.3V552.2M899.3 500.8V535.3M900.3 510.1V546.6M901.3 491.0V535.0M902.3 503.4V555.5M903.3 494.8V555.2M904.3 513.5V551.8M905.3 498.0V537.6M906.3 503.6V543.5M907.3 500.7V558.2M908.3 500.7V555.4M909.3 508.1V537.8M910.3 514.3V541.2M911.3 506.2V555.6M912.3 516.8V538.9M913.3 508.4V548.9M914.3 517.5V547.7M915.3 499.3V551.6M916.3 517.9V554.4M917.3 511.1V542.7M918.3 502.3V552.1M919.3 499.4V540.0M920.3 509.7V551.4M921.3 503.9V540.0M922.3 519.1V546.0M923.3 504.7V539.8M924.3 518.4V542.5M925.3 510.3V541.1M926.3 511.2V547.7M927.3 514.6V553.0M928.3 513.3V556.3M929.3 509.7V553.7M930.3 521.3V546.0M931.3 522.0V541.0M932.3 522.1V559.6M933.3 505.1V548.1M934.3 521.4V548.4M935.3 513.7V556.5M936.3 523.2V551.7M937.3 505.3V541.4M938.3 520.7V553.6M939.3 509.5V542.9M940.3 522.8V549.0M941.3 507.3V550.1M942.3 523.5V552.2M943.3 516.9V545.6M944.3 521.3V552.8M945.3 522.6V543.2M946.3 510.8V551.8M947.3 522.3V558.4M948.3 509.9V549.0M949.3 513.7V542.8M950.3 506.8V554.5M951.3 524.1V544.0M952.3 523.3V549.8M953.3 519.4V551.1M954.3 526.0V557.5M955.3 521.2V543.2M956.3 521.7V544.4M957.3 525.9V544.2M958.3 521.7V543.9M959.3 514.4V545.3M960.3 526.3V557.7M961.3 512.5V544.7M962.3 515.2V545.1M963.3 519.4V558.0M964.3 525.7V558.4M965.3 521.7V543.6M966.3 525.4V557.1M967.3 522.0V556.3M968.3 526.9V557.7M969.3 513.7V549.2M970.3 527.2V554.1M971.3 514.2V545.5M972.3 527.4V562.4M973.3 512.3V558.7M974.3 527.5V558.5M975.3 508.1V548.4M976.3 525.5V555.1M977.3 514.7V548.9M978.3 524.8V558.6M979.3 513.5V562.1M980.3 519.5V548.8M981.3 517.8V549.9M982.3 524.9V560.7M983.3 519.2V549.6M984.3 522.7V556.8M985.3 511.0V547.3M986.3 518.2V550.7M987.3 517.5V547.7M988.3 523.7V567.3M989.3 517.3V558.2M990.3 524.7V572.4M991.3 509.9V547.8M992.3 526.5V564.5M993.3 526.9V547.5M994.3 526.8V565.4M995.3 518.6V554.0M996.3 526.6V567.6M997.3 513.0V562.8M998.3 512.8V562.3M999.3 511.0V556.8M1000.3 518.7V564.8M1001.3 519.8V546.5M1002.3 524.8V558.5M1003.3 505.9V549.2M1004.3 513.9V566.6M1005.3 526.3V550.0M1006.3 526.6V570.2M1007.3 511.0V565.8M1008.3 525.6V562.4M1009.3 513.8V556.9M1010.3 525.4V568.2M1011.3 507.2V548.4M1012.3 516.9V558.8M1013.3 519.0V546.7M1014.3 507.9V567.1M1015.3 518.6V564.3M1016.3 525.8V550.3M1017.3 508.0V546.9M1018.3 514.6V549.6M1019.3 525.8V558.8M1020.3 525.2V558.9M1021.3 497.1V574.5M1022.3 524.2V564.4M1023.3 505.5V547.9M1024.3 526.7V554.7M1025.3 516.8V560.7M1026.3 511.7V557.8M1027.3 519.6V546.0M1028.3 526.8V553.9M1029.3 516.5V561.1M1030.3 527.4V563.1M1031.3 521.3V546.4M1032.3 510.1V545.3M1033.3 511.9V546.6M1034.3 527.9V544.2M1035.3 516.6V556.1M1036.3 526.7V552.6M1037.3 513.6V556.0M1038.3 525.9V549.5M1039.3 514.5V545.2M1040.3 528.0V544.1M1041.3 514.8V554.7M1042.3 519.0V557.7M1043.3 527.1V545.2M1044.3 527.5V549.3M1045.3 511.3V559.1M1046.3 522.3V550.2M1047.3 511.5V544.4M1048.3 519.8V552.1M1049.3 520.0V543.3M1050.3 525.1V551.8M1051.3 525.3V553.6M1052.3 523.9V544.1M1053.3 516.6V550.8M1054.3 514.2V554.7M1055.3 517.4V547.1M1056.3 523.7V553.7M1057.3 508.5V547.4M1058.3 524.5V556.6M1059.3 506.8V545.3M1060.3 523.5V550.0M1061.3 514.1V547.2M1062.3 509.4V550.7M1063.3 514.3V552.0M1064.3 525.4V561.1M1065.3 517.2V544.9M1066.3 525.2V562.3M1067.3 519.4V546.5M1068.3 519.8V558.9M1069.3 515.8V546.4M1070.3 524.3V554.2M1071.3 519.5V555.5M1072.3 524.2V551.8M1073.3 507.2V559.6M1074.3 523.0V553.1M1075.3 516.4V560.2M1076.3 523.2V554.3M1077.3 513.8V559.2M1078.3 519.0V552.9M1079.3 506.0V544.2M1080.3 522.8V556.1M1081.3 524.7V563.2M1082.3 524.7V552.7M1083.3 504.1V545.1M1084.3 524.0V559.1M1085.3 508.4V544.9M1086.3 523.5V553.0M1087.3 505.0V545.2M1088.3 524.1V548.2M1089.3 502.3V560.9M1090.3 520.9V566.6M1091.3 513.8V547.9M1092.3 523.8V550.0M1093.3 505.3V553.5M1094.3 523.6V560.2M1095.3 508.0V558.5M1096.3 520.7V558.0M1097.3 513.1V549.2M1098.3 512.7V564.4M1099.3 514.6V550.2M1100.3 516.7V546.7M1101.3 508.6V560.3M1102.3 524.4V562.7M1103.3 518.3V559.0M1104.3 504.9V548.4M1105.3 515.4V549.2M1106.3 520.0V553.7M1107.3 507.1V546.6M1108.3 524.5V559.1M1109.3 513.8V561.4M1110.3 516.9V556.1M1111.3 518.3V545.5M1112.3 524.8V556.9M1113.3 527.2V545.0M1114.3 515.2V562.3M1115.3 509.9V547.1M1116.3 514.7V550.2M1117.3 514.4V545.4M1118.3 521.0V550.6M1119.3 521.9V547.7M1120.3 518.9V557.3M1121.3 522.9V553.6M1122.3 528.2V545.9M1123.3 517.5V546.2M1124.3 527.1V553.2M1125.3 517.0V545.5M1126.3 515.5V558.2M1127.3 518.9V548.9M1128.3 526.7V552.0M1129.3 527.5V546.6M1130.3 527.9V560.4M1131.3 519.3V547.9M1132.3 519.0V557.3M1133.3 510.3V546.7M1134.3 528.9V554.9M1135.3 520.3V546.2M1136.3 515.0V563.2M1137.3 527.7V559.6M1138.3 517.2V552.6M1139.3 520.4V546.9M1140.3 527.4V556.9M1141.3 522.4V546.2M1142.3 524.4V547.1M851.7 426.2L851.8 426.2L852.0 426.2L852.1 426.2L852.3 426.2L852.4 426.2L852.6 426.2L852.7 426.2L852.8 426.2L853.0 426.2L853.1 426.2L853.3 426.2L853.4 426.2L853.6 426.2L853.7 426.2L853.9 426.2L854.0 426.2L854.2 426.2L854.3 426.2L854.5 426.2L854.6 426.2L854.8 426.2L854.9 426.2L855.0 426.2L855.2 426.2L855.3 426.2L855.5 426.2L855.5 426.2L855.6 439.1L855.8 455.9L855.9 472.8L856.1 489.6L856.2 506.5L856.4 523.4L856.5 540.2L856.7 557.1L856.8 573.9L856.9 590.8L857.1 607.6L857.2 624.5L857.4 641.3L857.5 658.2L857.7 675.0L857.7 680.8L857.8 670.3L858.0 655.4L858.1 641.6L858.3 628.8L858.4 616.9L858.6 605.9L858.7 595.7L858.9 586.3L859.0 577.5L859.1 569.4L859.3 561.9L859.4 555.0L859.6 548.6L859.7 542.7L859.9 537.2L860.0 532.2L860.2 527.5L860.3 523.2L860.5 519.2L860.6 515.6L860.8 512.2L860.9 509.1L861.0 506.3L861.2 503.7L861.3 501.3L861.5 499.1L861.6 497.1L861.8 495.2L861.9 493.6L862.1 492.0L862.2 490.6L862.4 489.4L862.5 488.2L862.7 487.2L862.8 486.3L863.0 485.5L863.1 484.7L863.2 484.1L863.4 483.5L863.5 483.0L863.7 482.5L863.8 482.1L864.0 481.8L864.1 481.5L864.3 481.3L864.4 481.1L864.6 480.9L864.7 480.8L864.9 480.8L865.0 480.7L865.2 480.7L865.3 480.7L865.4 480.8L865.6 480.8L865.7 480.9L865.9 481.0L866.0 481.2L866.2 481.3L866.3 481.5L866.5 481.6L866.6 481.8L866.8 482.0L866.9 482.2L867.1 482.5L867.2 482.7L867.3 482.9L867.5 483.2L867.6 483.4L867.8 483.7L867.9 484.0L868.1 484.2L868.2 484.5L868.4 484.8L868.5 485.1L868.7 485.4L868.8 485.6L869.0 485.9L869.1 486.2L869.3 486.5L869.4 486.8L869.5 487.1L869.7 487.4L869.8 487.7L870.0 488.0L870.1 488.3L870.3 488.6L870.4 488.9L870.6 489.2L870.7 489.5L870.9 489.8L871.0 490.1L871.2 490.4L871.3 490.7L871.4 491.0L871.6 491.3L871.7 491.6L871.9 491.9L872.0 492.2L872.2 492.5L872.3 492.8L872.5 493.1L872.6 493.4L872.8 493.7L872.9 494.0L873.1 494.2L873.2 494.5L873.4 494.8L873.5 495.1L873.6 495.4L873.8 495.6L873.9 495.9L874.1 496.2L874.2 496.5L874.4 496.7L874.5 497.0L874.7 497.3L874.8 497.5L875.0 497.8" stroke="#0072bd" stroke-width="1.3" fill="none" stroke-linejoin="round"/>
<path d="M677.0 353.5H1142.5M677.0 389.5H1142.5M677.0 424.5H1142.5M677.0 460.5H1142.5M677.0 496.5H1142.5M677.0 532.5H1142.5M677.0 568.5H1142.5M677.0 603.5H1142.5M677.0 639.5H1142.5M677.0 675.5H1142.5" stroke="#000" stroke-opacity="0.12" stroke-width="1" fill="none"/>
<path d="M793.5 318.0V693.0M910.0 318.0V693.0M1026.5 318.0V693.0" stroke="#000" stroke-opacity="0.17" stroke-width="1" fill="none"/>
<rect x="677.0" y="318.0" width="465.5" height="375.0" fill="none" stroke="#333" stroke-width="1.4"/>
<path d="M677.0 353.5h5.5M1142.5 353.5h-5.5M677.0 389.5h5.5M1142.5 389.5h-5.5M677.0 424.5h5.5M1142.5 424.5h-5.5M677.0 460.5h5.5M1142.5 460.5h-5.5M677.0 496.5h5.5M1142.5 496.5h-5.5M677.0 532.5h5.5M1142.5 532.5h-5.5M677.0 568.5h5.5M1142.5 568.5h-5.5M677.0 603.5h5.5M1142.5 603.5h-5.5M677.0 639.5h5.5M1142.5 639.5h-5.5M677.0 675.5h5.5M1142.5 675.5h-5.5M793.5 693.0v-4.5M793.5 318.0v4.5M910.0 693.0v-4.5M910.0 318.0v4.5M1026.5 693.0v-4.5M1026.5 318.0v4.5" stroke="#333" stroke-width="1" fill="none"/>
<text transform="translate(628.86 361.18) scale(1 1.013)" font-size="27.28" fill="#222222">376</text>
<text transform="translate(628.87 396.96) scale(1 1.022)" font-size="27.05" fill="#222222">374</text>
<text transform="translate(628.86 432.74) scale(1 1.009)" font-size="27.41" fill="#222222">372</text>
<text transform="translate(628.87 468.52) scale(1 1.017)" font-size="27.20" fill="#222222">370</text>
<text transform="translate(628.86 504.30) scale(1 1.013)" font-size="27.28" fill="#222222">368</text>
<text transform="translate(628.86 540.08) scale(1 1.013)" font-size="27.28" fill="#222222">366</text>
<text transform="translate(628.87 575.86) scale(1 1.022)" font-size="27.05" fill="#222222">364</text>
<text transform="translate(628.86 611.64) scale(1 1.009)" font-size="27.41" fill="#222222">362</text>
<text transform="translate(628.87 647.42) scale(1 1.017)" font-size="27.20" fill="#222222">360</text>
<text transform="translate(628.86 683.20) scale(1 1.013)" font-size="27.28" fill="#222222">358</text>
<text transform="translate(672.16 718.10) scale(1 1.068)" font-size="26.40" fill="#222222">1</text>
<text transform="translate(787.01 718.10) scale(1 1.053)" font-size="26.40" fill="#222222">2</text>
<text transform="translate(903.46 718.10) scale(1 1.053)" font-size="26.40" fill="#222222">3</text>
<text transform="translate(1019.91 718.10) scale(1 1.068)" font-size="26.40" fill="#222222">4</text>
<text transform="translate(1136.36 718.10) scale(1 1.068)" font-size="26.40" fill="#222222">5</text>
</g>
<text class="b" transform="translate(763.42 358.80)" font-size="33.66" fill="#0072bd">Converter  dc-link</text>
<text transform="translate(860.00 740.00)" fill="#222222"><tspan x="1.15" font-size="29.45">Time </tspan><tspan class="ser" x="72.20" font-size="31.00" dy="1.90">[</tspan><tspan class="ser" x="81.92" font-size="28.00" dy="-1.90">s</tspan><tspan class="ser" x="93.33" font-size="31.00" dy="1.90">]</tspan></text>
<text transform="translate(613.00 660.00) rotate(-90) scale(1 0.940)" fill="#222222"><tspan x="1.85" font-size="29.84">DC-link Voltage </tspan><tspan class="ser it" x="221.95" font-size="26.91">v</tspan><tspan class="ser it" x="235.31" font-size="17.00" dy="5.53">dc </tspan><tspan class="ser" x="259.29" font-size="28.55" dy="-5.53">[V]</tspan></text>
</svg>
</body>
</html>
